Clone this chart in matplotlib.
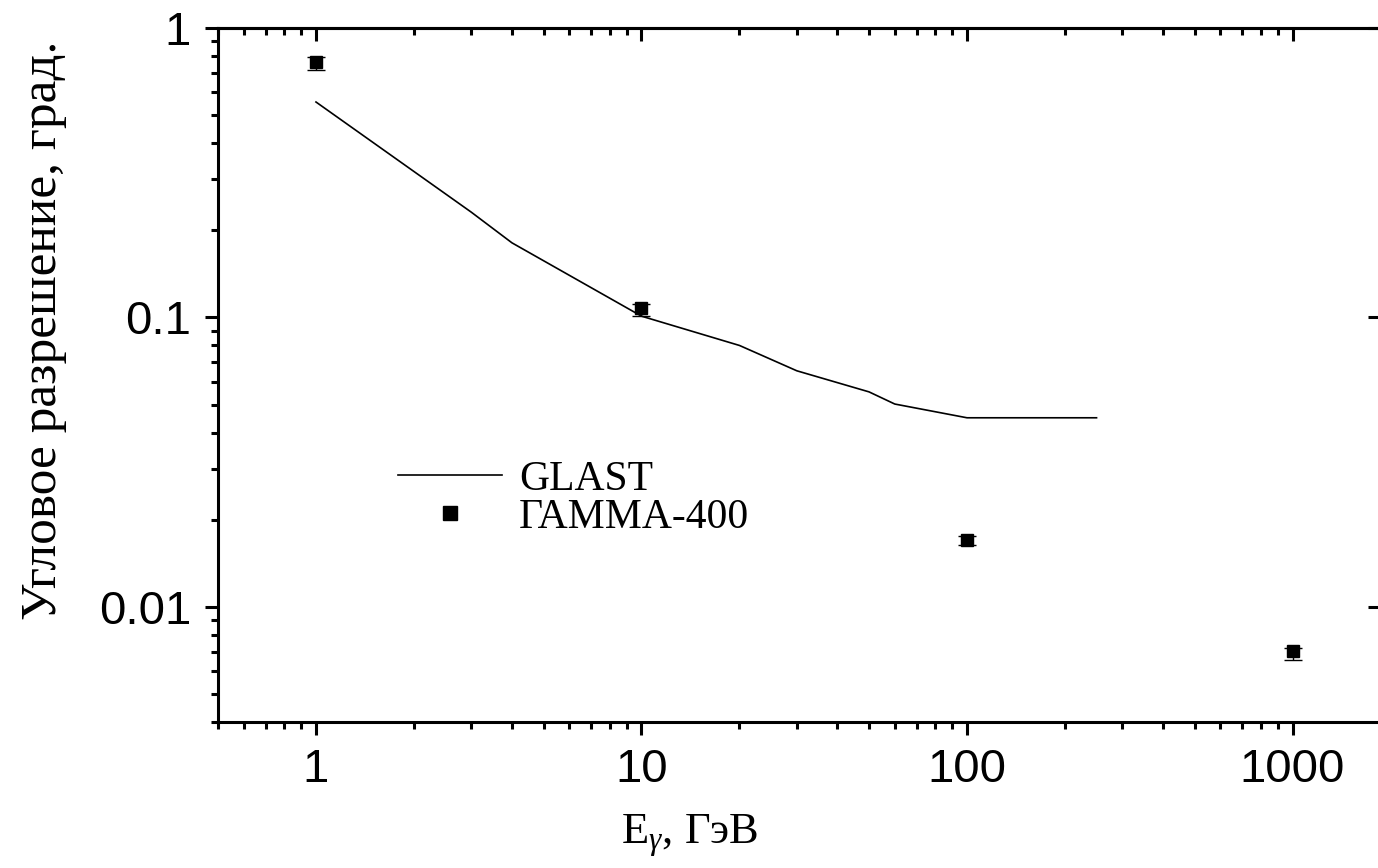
import matplotlib
matplotlib.use("Agg")
import matplotlib.pyplot as plt
from matplotlib.ticker import LogLocator, NullFormatter, FixedLocator, FixedFormatter

plt.rcParams['font.family'] = ['Liberation Sans', 'DejaVu Sans']
plt.rcParams['mathtext.fontset'] = 'custom'
plt.rcParams['mathtext.rm'] = 'Liberation Serif'
plt.rcParams['mathtext.it'] = 'Liberation Serif:italic'

# GLAST curve
glast_e = [1, 3, 4, 10, 20, 30, 50, 60, 100, 250]
glast_res = [0.555, 0.231, 0.181, 0.101, 0.080, 0.0654, 0.0553, 0.0502, 0.045, 0.045]

# GAMMA-400 points
g400_e = [1, 10, 100, 1000]
g400_res = [0.763, 0.108, 0.0170, 0.00702]
g400_err_lo = [0.047, 0.007, 0.0007, 0.00046]
g400_err_hi = [0.031, 0.003, 0.0005, 0.00020]

xticks = [1, 10, 100, 1000]
xticklabels = ['1', '10', '100', '1000']
yticks = [0.01, 0.1, 1]
yticklabels = ['0.01', '0.1', '1']

fig = plt.figure(figsize=(13.78, 8.68), dpi=100)
ax = fig.add_axes([218/1378, (868-722)/868, (1381-218)/1378, (722-28)/868])

ax.plot(glast_e, glast_res, color='black', lw=1.2, label='GLAST')
ax.errorbar(g400_e, g400_res, yerr=[g400_err_lo, g400_err_hi], fmt='none',
            ecolor='black', elinewidth=1.0, capsize=6.5, capthick=1.0)
ax.plot(g400_e, g400_res, 's', color='black', ms=8.6, ls='none', label='ГАММА-400')

ax.set_xscale('log')
ax.set_yscale('log')
ax.set_xlim(0.5, 1870)
ax.set_ylim(0.004, 1)

ax.xaxis.set_major_locator(FixedLocator(xticks))
ax.xaxis.set_major_formatter(FixedFormatter(xticklabels))
ax.xaxis.set_minor_locator(LogLocator(base=10, subs=range(2, 10), numticks=20))
ax.xaxis.set_minor_formatter(NullFormatter())
ax.yaxis.set_major_locator(FixedLocator(yticks))
ax.yaxis.set_major_formatter(FixedFormatter(yticklabels))
ax.yaxis.set_minor_locator(LogLocator(base=10, subs=range(2, 10), numticks=20))
ax.yaxis.set_minor_formatter(NullFormatter())

for sp in ax.spines.values():
    sp.set_linewidth(2.2)

ax.tick_params(axis='x', which='both', bottom=True, top=False, direction='out', width=2.2)
ax.tick_params(axis='y', which='both', left=True, right=False, direction='out', width=2.2)
ax.tick_params(which='major', length=9.5)
ax.tick_params(which='minor', length=5)
ax.tick_params(axis='x', which='major', pad=9, labelsize=34)
ax.tick_params(axis='y', which='major', pad=10, labelsize=34)

# inward ticks on top and right
sec_x = ax.secondary_xaxis('top')
sec_x.xaxis.set_major_locator(FixedLocator(xticks))
sec_x.xaxis.set_minor_locator(LogLocator(base=10, subs=range(2, 10), numticks=20))
sec_x.xaxis.set_major_formatter(NullFormatter())
sec_x.xaxis.set_minor_formatter(NullFormatter())
sec_x.tick_params(which='both', direction='in', width=2.2)
sec_x.tick_params(which='major', length=9.5)
sec_x.tick_params(which='minor', length=5)
sec_x.spines['top'].set_linewidth(2.2)

sec_y = ax.secondary_yaxis('right')
sec_y.yaxis.set_major_locator(FixedLocator(yticks))
sec_y.yaxis.set_minor_locator(LogLocator(base=10, subs=range(2, 10), numticks=20))
sec_y.yaxis.set_major_formatter(NullFormatter())
sec_y.yaxis.set_minor_formatter(NullFormatter())
sec_y.tick_params(which='both', direction='in', width=2.2)
sec_y.tick_params(which='major', length=9.5)
sec_y.tick_params(which='minor', length=0)
sec_y.spines['right'].set_linewidth(2.2)

ax.set_xlabel(r'E$_\gamma$, ГэВ', fontfamily='Liberation Serif', fontsize=32, labelpad=12)
ax.xaxis.set_label_coords((690-218)/1163, -0.13)
ax.set_ylabel('Угловое разрешение, град.', fontfamily='Liberation Serif', fontsize=37)
ax.yaxis.set_label_coords((67-218)/1163, (868-330-146)/694)

leg = ax.legend(loc='upper left', bbox_to_anchor=(398/1378, (868-460)/868),
                bbox_transform=fig.transFigure, frameon=False,
                prop={'family': 'Liberation Serif', 'size': 30},
                handlelength=2.5, handletextpad=0.4, labelspacing=0.0,
                borderaxespad=0, borderpad=0, markerscale=1.15)

fig.savefig('out.png', dpi=100)
